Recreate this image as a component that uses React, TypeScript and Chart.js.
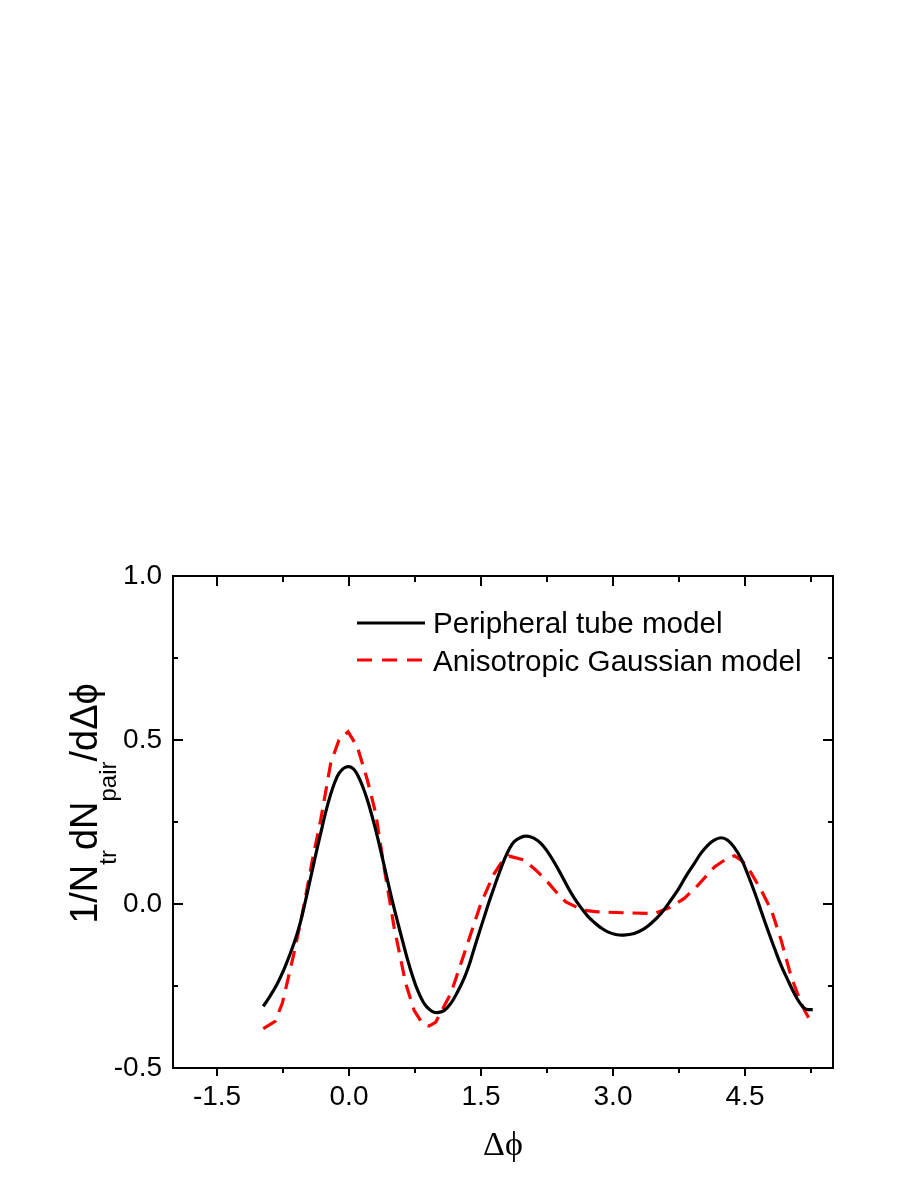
import { useEffect, useRef } from 'react';
import { Chart, registerables } from 'chart.js';

Chart.register(...registerables);

const W = 913;
const H = 1182;

// Peripheral tube model (black solid)
const tubeX = [
  -0.974, -0.9, -0.815, -0.74, -0.663, -0.6, -0.549, -0.49, -0.436, -0.38, -0.322, -0.265, -0.208, -0.16, -0.114, -0.06,
  0, 0.05, 0.095, 0.15, 0.209, 0.265, 0.323, 0.38, 0.437, 0.49, 0.55, 0.61, 0.664, 0.72, 0.778, 0.84, 0.892, 0.95, 1.005,
  1.08, 1.157, 1.23, 1.31, 1.36, 1.404, 1.47, 1.536, 1.59, 1.65, 1.71, 1.763, 1.82, 1.877, 1.95, 2.02, 2.1, 2.18, 2.25,
  2.33, 2.41, 2.485, 2.56, 2.636, 2.71, 2.787, 2.86, 2.94, 3.03, 3.12, 3.24, 3.356, 3.45, 3.546, 3.64, 3.736, 3.83, 3.925,
  4.0, 4.077, 4.15, 4.229, 4.3, 4.38, 4.46, 4.532, 4.61, 4.684, 4.76, 4.835, 4.91, 4.987, 5.04, 5.1, 5.14, 5.176, 5.22, 5.27,
];
const tubeY = [
  -0.312, -0.282, -0.243, -0.2, -0.148, -0.1, -0.052, 0.015, 0.08, 0.148, 0.215, 0.28, 0.335, 0.372, 0.398, 0.414,
  0.419, 0.412, 0.395, 0.362, 0.317, 0.265, 0.205, 0.14, 0.073, 0.012, -0.052, -0.114, -0.168, -0.218, -0.262, -0.297, -0.316, -0.328, -0.331,
  -0.325, -0.303, -0.27, -0.225, -0.19, -0.152, -0.095, -0.04, 0.005, 0.052, 0.097, 0.134, 0.167, 0.19, 0.203, 0.207, 0.201, 0.185, 0.162,
  0.128, 0.09, 0.052, 0.018, -0.011, -0.036, -0.056, -0.072, -0.085, -0.093, -0.095, -0.09, -0.075, -0.055, -0.029, 0.005, 0.042, 0.085, 0.124,
  0.155, 0.179, 0.195, 0.202, 0.195, 0.172, 0.136, 0.09, 0.035, -0.022, -0.08, -0.135, -0.187, -0.232, -0.262, -0.292, -0.308, -0.318, -0.322, -0.322,
];

// Anisotropic Gaussian model (red dashed)
const gaussX = [
  -0.974, -0.84, -0.758, -0.626, -0.53, -0.416, -0.322, -0.208, -0.114, -0.01, 0.095, 0.209, 0.304, 0.398, 0.512, 0.645,
  0.74, 0.835, 0.91, 0.986, 1.157, 1.31, 1.385, 1.498, 1.65, 1.726, 1.82, 1.99, 2.124, 2.237, 2.37, 2.465, 2.655, 2.826,
  3.148, 3.47, 3.66, 3.81, 3.964, 4.153, 4.3, 4.38, 4.456, 4.53, 4.684, 4.8, 4.91, 5.025, 5.139, 5.176, 5.26,
];
const gaussY = [
  -0.38, -0.358, -0.303, -0.151, -0.029, 0.134, 0.256, 0.429, 0.5, 0.525, 0.479, 0.378, 0.276, 0.113, -0.07, -0.243,
  -0.324, -0.365, -0.372, -0.36, -0.273, -0.151, -0.09, 0.001, 0.093, 0.124, 0.146, 0.134, 0.103, 0.073, 0.032, 0.006, -0.019, -0.024,
  -0.027, -0.029, -0.009, 0.017, 0.057, 0.113, 0.14, 0.147, 0.134, 0.113, 0.042, -0.019, -0.11, -0.222, -0.303, -0.324, -0.365,
];

const seriesNames = ['Peripheral tube model', 'Anisotropic Gaussian model'];
const xMajor = [-1.5, 0, 1.5, 3, 4.5];
const xMinor = [-0.75, 0.75, 2.25, 3.75, 5.25];
const yMajor = [-0.5, 0, 0.5, 1.0];
const yMinor = [-0.25, 0.25, 0.75];
const xRange = [-2, 5.5];
const yRange = [-0.5, 1.0];
const xTitle = 'Δϕ';
const yTitleParts = [
  { t: '1/N', sub: false },
  { t: 'tr', sub: true },
  { t: 'dN', sub: false },
  { t: 'pair', sub: true },
  { t: '/dΔϕ', sub: false },
];

const SANS = "'Liberation Sans', Arial, sans-serif";
const SERIF = "'Liberation Serif', 'DejaVu Serif', 'Times New Roman', serif";

const decorPlugin = {
  id: 'decor',
  afterDatasetsDraw(chart: any) {
    const { ctx, chartArea: a, scales } = chart;
    const sx = scales.x;
    const sy = scales.y;
    ctx.save();
    ctx.strokeStyle = '#000';
    ctx.lineWidth = 2;
    ctx.setLineDash([]);
    ctx.strokeRect(a.left, a.top, a.right - a.left, a.bottom - a.top);
    ctx.beginPath();
    const xt = (v: number, len: number, lenTop: number) => {
      const p = Math.round(sx.getPixelForValue(v));
      ctx.moveTo(p, a.bottom);
      ctx.lineTo(p, a.bottom + len);
      ctx.moveTo(p, a.top);
      ctx.lineTo(p, a.top + lenTop);
    };
    xMajor.forEach((v) => xt(v, 8, 10));
    xMinor.forEach((v) => xt(v, 5, 6));
    const yt = (v: number, len: number) => {
      const p = Math.round(sy.getPixelForValue(v));
      ctx.moveTo(a.left, p);
      ctx.lineTo(a.left + len, p);
      ctx.moveTo(a.right, p);
      ctx.lineTo(a.right - len, p);
    };
    yMajor.forEach((v) => yt(v, 10));
    yMinor.forEach((v) => yt(v, 5));
    ctx.stroke();

    // legend
    ctx.lineWidth = 3;
    ctx.strokeStyle = '#000';
    ctx.beginPath();
    ctx.moveTo(357, 623);
    ctx.lineTo(425, 623);
    ctx.stroke();
    ctx.strokeStyle = '#ff0000';
    ctx.setLineDash([15, 10]);
    ctx.beginPath();
    ctx.moveTo(357, 660);
    ctx.lineTo(425, 660);
    ctx.stroke();
    ctx.setLineDash([]);
    ctx.fillStyle = '#000';
    ctx.font = `29.6px ${SANS}`;
    ctx.textAlign = 'left';
    ctx.textBaseline = 'alphabetic';
    ctx.fillText(seriesNames[0], 433, 633);
    ctx.fillText(seriesNames[1], 433, 671);

    // x title
    ctx.font = `34px ${SERIF}`;
    ctx.textAlign = 'center';
    ctx.fillText(xTitle, (a.left + a.right) / 2, 1155);

    // y title
    ctx.translate(97, 803.5);
    ctx.rotate(-Math.PI / 2);
    ctx.textAlign = 'left';
    const mainFont = `38px ${SANS}`;
    const subFont = `24px ${SANS}`;
    let total = 0;
    yTitleParts.forEach((p) => {
      ctx.font = p.sub ? subFont : mainFont;
      total += ctx.measureText(p.t).width;
    });
    let x = -total / 2;
    yTitleParts.forEach((p) => {
      ctx.font = p.sub ? subFont : mainFont;
      ctx.fillText(p.t, x, p.sub ? 19 : 0);
      x += ctx.measureText(p.t).width;
    });
    ctx.restore();
  },
};

export default function App() {
  const ref = useRef<HTMLCanvasElement | null>(null);
  useEffect(() => {
    if (!ref.current) return;
    const chart = new Chart(ref.current, {
      type: 'scatter',
      data: {
        datasets: [
          {
            label: seriesNames[0],
            data: tubeX.map((x, i) => ({ x, y: tubeY[i] })),
            showLine: true,
            borderColor: '#000000',
            borderWidth: 3.2,
            pointRadius: 0,
            tension: 0.4,
            fill: false,
          },
          {
            label: seriesNames[1],
            data: gaussX.map((x, i) => ({ x, y: gaussY[i] })),
            showLine: true,
            borderColor: '#ff0000',
            borderWidth: 3.2,
            borderDash: [15, 9],
            pointRadius: 0,
            tension: 0,
            fill: false,
          },
        ],
      },
      options: {
        responsive: false,
        animation: false,
        events: [],
        layout: { padding: { left: 0, top: 576, right: W - 833, bottom: 0 } },
        plugins: { legend: { display: false }, tooltip: { enabled: false }, title: { display: false } },
        scales: {
          x: {
            type: 'linear',
            min: xRange[0],
            max: xRange[1],
            afterFit: (s: any) => {
              s.height = H - 1068;
            },
            afterBuildTicks: (s: any) => {
              s.ticks = xMajor.map((v) => ({ value: v }));
            },
            grid: { display: false, drawTicks: false },
            border: { display: false },
            ticks: {
              autoSkip: false,
              maxRotation: 0,
              padding: 12,
              color: '#000',
              font: { family: SANS, size: 28 },
              callback: (v: any) => Number(v).toFixed(1),
            },
          },
          y: {
            type: 'linear',
            min: yRange[0],
            max: yRange[1],
            afterFit: (s: any) => {
              s.width = 173;
            },
            afterBuildTicks: (s: any) => {
              s.ticks = yMajor.map((v) => ({ value: v }));
            },
            grid: { display: false, drawTicks: false },
            border: { display: false },
            ticks: {
              autoSkip: false,
              padding: 11,
              color: '#000',
              font: { family: SANS, size: 28 },
              callback: (v: any) => Number(v).toFixed(1),
            },
          },
        },
      },
      plugins: [decorPlugin],
    } as any);
    return () => chart.destroy();
  }, []);
  return (
    <div style={{ position: 'fixed', left: 0, top: 0, width: W, height: H, background: '#fff' }}>
      <canvas ref={ref} width={W} height={H} style={{ display: 'block', width: W, height: H }} />
    </div>
  );
}
